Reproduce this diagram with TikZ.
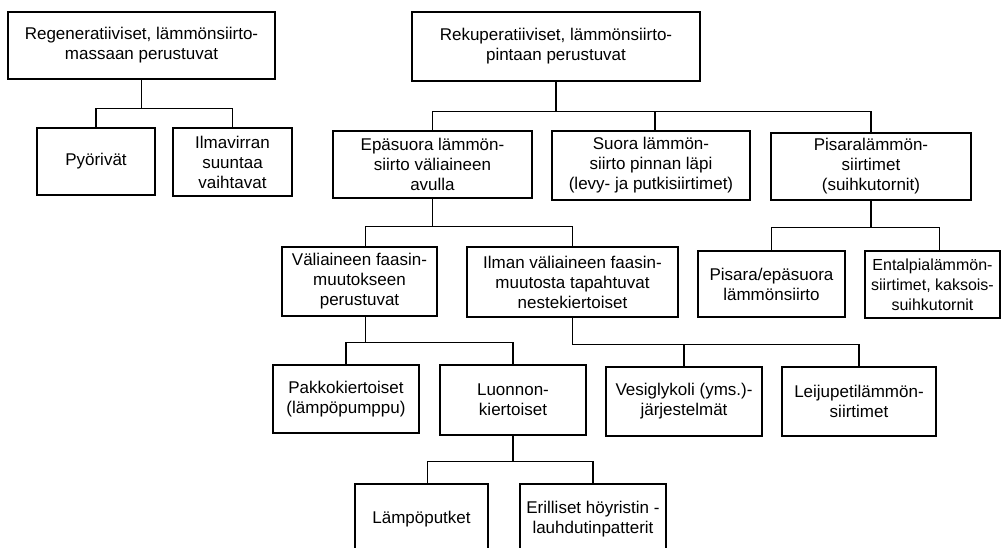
\documentclass[tikz,border=0pt]{standalone}
\usepackage{fontspec}
\setmainfont{Liberation Sans}

\tikzset{
    laatikko/.style={draw, line width=1.1pt, align=center, inner sep=0pt,
        font=\fontsize{17}{20}\selectfont},
    viiva/.style={draw, line width=1.1pt}
}

\begin{document}
\begin{tikzpicture}[x=1pt, y=-1pt]

\useasboundingbox (0,0) rectangle (1002,547);

% ===== Ylin taso =====
\node[laatikko, minimum width=267pt, minimum height=67pt] (regen) at (141.5,45.5)
    {Regeneratiiviset, lämmönsiirto-\\massaan perustuvat};
\node[laatikko, minimum width=288pt, minimum height=69pt] (rekup) at (556,46.5)
    {Rekuperatiiviset, lämmönsiirto-\\pintaan perustuvat};

% ===== Toinen taso =====
\node[laatikko, minimum width=118pt, minimum height=67pt] (pyor) at (96,161.5)
    {Pyörivät};
\node[laatikko, minimum width=119pt, minimum height=68pt] (ilmav) at (232.5,162)
    {Ilmavirran\\suuntaa\\vaihtavat};
\node[laatikko, minimum width=199pt, minimum height=67pt] (epas) at (432.5,164.5)
    {Epäsuora lämmön-\\siirto väliaineen\\avulla};
\node[laatikko, minimum width=198pt, minimum height=69pt] (suora) at (651,165.5)
    {Suora lämmön-\\siirto pinnan läpi\\(levy- ja putkisiirtimet)};
\node[laatikko, minimum width=200pt, minimum height=67pt] (pisara) at (871,166.5)
    {Pisaralämmön-\\siirtimet\\(suihkutornit)};

% ===== Kolmas taso =====
\node[laatikko, minimum width=155pt, minimum height=69pt] (valiai) at (359.5,281.5)
    {Väliaineen faasin-\\muutokseen\\perustuvat};
\node[laatikko, minimum width=211pt, minimum height=70pt] (ilman) at (572.5,282)
    {Ilman väliaineen faasin-\\muutosta tapahtuvat\\nestekiertoiset};
\node[laatikko, minimum width=147pt, minimum height=66pt] (pisep) at (771.5,284)
    {Pisara/epäsuora\\lämmönsiirto};
\node[laatikko, minimum width=135pt, minimum height=67pt,
    font=\fontsize{16}{20}\selectfont] (ental) at (932.5,284.5)
    {Entalpialämmön-\\siirtimet, kaksois-\\suihkutornit};

% ===== Neljäs taso =====
\node[laatikko, minimum width=146pt, minimum height=68pt] (pakko) at (346,399)
    {Pakkokiertoiset\\(lämpöpumppu)};
\node[laatikko, minimum width=146pt, minimum height=70pt] (luonn) at (513,400)
    {Luonnon-\\kiertoiset};
\node[laatikko, minimum width=156pt, minimum height=69pt] (vesig) at (684,401.5)
    {Vesiglykoli (yms.)-\\järjestelmät};
\node[laatikko, minimum width=154pt, minimum height=69pt] (leiju) at (859,401.5)
    {Leijupetilämmön-\\siirtimet};

% ===== Alin taso =====
\node[laatikko, minimum width=133pt, minimum height=70pt] (lampo) at (421.5,519)
    {Lämpöputket};
\node[laatikko, minimum width=146pt, minimum height=70pt] (erill) at (593,519)
    {Erilliset höyristin -\\lauhdutinpatterit};

% ===== Yhdysviivat =====
\draw[viiva] (regen.south) -- ++(0,29) coordinate (h1) -| (pyor.north);
\draw[viiva] (h1) -| (ilmav.north);

\draw[viiva] (rekup.south) -- ++(0,30) coordinate (h2) -| (epas.north);
\draw[viiva] (h2) -| ([xshift=4pt]suora.north);
\draw[viiva] (h2) -| (pisara.north);

\draw[viiva] (epas.south) -- ++(0,28) coordinate (h3) -| ([xshift=6pt]valiai.north);
\draw[viiva] (h3) -| (ilman.north);

\draw[viiva] (pisara.south) -- ++(0,27) coordinate (h4) -| (pisep.north);
\draw[viiva] (h4) -| ([xshift=7pt]ental.north);

\draw[viiva] ([xshift=6pt]valiai.south) -- ++(0,26) coordinate (h5) -| (pakko.north);
\draw[viiva] (h5) -| (luonn.north);

\draw[viiva] (ilman.south) -- ++(0,27) coordinate (h6) -| (vesig.north);
\draw[viiva] (h6) -| (leiju.north);

\draw[viiva] (luonn.south) -- ++(0,26) coordinate (h7) -| ([xshift=6pt]lampo.north);
\draw[viiva] (h7) -| (erill.north);

\end{tikzpicture}
\end{document}
